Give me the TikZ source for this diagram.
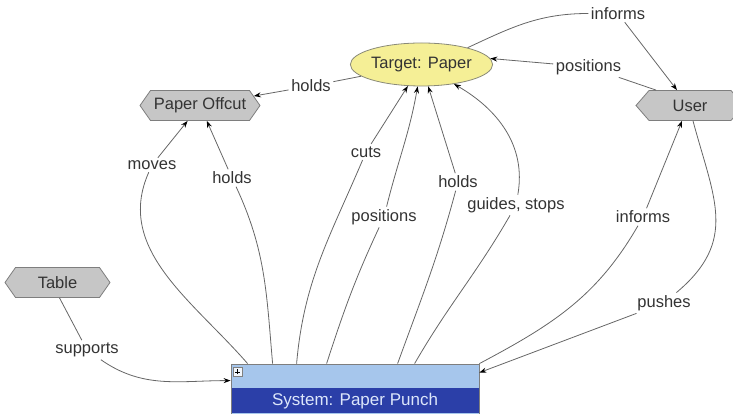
\documentclass[tikz,border=0pt]{standalone}
\usepackage{fontspec}
\setmainfont{Liberation Sans}
\usetikzlibrary{shapes.geometric,shapes.symbols,arrows.meta}

\definecolor{hexfill}{HTML}{C6C6C6}
\definecolor{hexline}{HTML}{7E7E7E}
\definecolor{paperfill}{HTML}{F5EF96}
\definecolor{paperline}{HTML}{8A8A78}
\definecolor{syslight}{HTML}{A6C6EC}
\definecolor{sysdark}{HTML}{2B3FA8}
\definecolor{systext}{HTML}{DCE6FA}
\definecolor{edgec}{HTML}{666666}
\definecolor{txt}{HTML}{333333}

\begin{document}
\begin{tikzpicture}[x=1pt,y=1pt,
  every node/.style={font=\fontsize{16.5}{19}\selectfont, text=txt},
  hexa/.style={signal, signal to=west and east, signal from=nowhere,
    signal pointer angle=110, draw=hexline, fill=hexfill, line width=0.8pt,
    inner sep=0pt, minimum height=30pt},
  thing/.style={ellipse, draw=paperline, fill=paperfill, line width=0.8pt,
    inner sep=0pt, minimum width=120pt, minimum height=43pt},
  lbl/.style={inner sep=2.5pt},
  flow/.style={draw=edgec, line width=0.8pt,
    -{Stealth[length=7pt,width=5pt,color=black]}},
]
\useasboundingbox (0,0) rectangle (733,414);
\clip (0,0) rectangle (733,414);

% objects
\node[thing] (target) at (421.5,349.5) {Target: Paper};
\node[hexa, minimum width=120pt] (offcut) at (200,308.5) {Paper Offcut};
\node[hexa, minimum width=108pt, signal pointer angle=98] (user) at (690,308.5) {User};
\node[hexa, minimum width=105pt] (table) at (57.5,131.5) {Table};

% the system block
\node[draw=hexline, fill=syslight, line width=0.8pt, minimum width=248pt,
  minimum height=50pt, inner sep=0pt] (sys) at (355,25) {};
\node[fill=sysdark, minimum width=247pt, minimum height=25pt, inner sep=0pt,
  text=systext, font=\fontsize{17}{20}\selectfont] (sysname) at (355,13) {System: Paper Punch};
\node[draw=gray, fill=white!85!syslight, minimum size=9pt, inner sep=0pt] (icon) at (237.5,42) {};
\draw[black, line width=0.9pt] ([xshift=-2.5pt]icon.center) -- ([xshift=2.5pt]icon.center)
  ([yshift=-2.5pt]icon.center) -- ([yshift=2.5pt]icon.center);

% connector labels
\node[lbl] (holdsA) at (311,328) {holds};
\node[lbl] (informsT) at (618,400.5) {informs};
\node[lbl] (positionsT) at (588.5,347) {positions};
\node[lbl] (moves) at (152,249) {moves};
\node[lbl] (holdsB) at (232,236) {holds};
\node[lbl] (cuts) at (366,262) {cuts};
\node[lbl] (positionsM) at (384,197) {positions};
\node[lbl] (holdsC) at (458,232) {holds};
\node[lbl] (guides) at (516,209) {guides, stops};
\node[lbl] (informsR) at (643,197) {informs};
\node[lbl] (pushes) at (664,111) {pushes};
\node[lbl] (supports) at (87,64) {supports};

% connectors
\draw[flow] (target) -- (holdsA) -- (offcut);
\draw[flow] (target.20) to[out=25,in=180] (informsT) -- ([xshift=-13pt]user.north);
\draw[flow] ([xshift=-34pt]user.north) -- (positionsT) -- (target.5);
\draw[flow] ([xshift=17pt]sys.north west) to[out=131,in=-114] (moves) -- (offcut);
\draw[flow] ([xshift=42pt]sys.north west) to[out=95,in=-65] (holdsB) -- (offcut);
\draw[flow] ([xshift=66pt]sys.north west) to[out=85,in=-113] (cuts) -- (target);
\draw[flow] ([xshift=96pt]sys.north west) to[out=72,in=-115] (positionsM)
  to[out=76,in=-100] (target.-100);
\draw[flow] ([xshift=167pt]sys.north west) to[out=70,in=-105] (holdsC) -- (target.-73);
\draw[flow] ([xshift=184pt]sys.north west) to[out=60,in=-120] (guides)
  to[out=80,in=-30] (target.-31);
\draw[flow] (sys.north east) to[out=28,in=-120] (informsR) -- ([xshift=-8pt]user.south);
\draw[flow] ([xshift=3pt]user.south) to[out=-75,in=40,looseness=1.2] (pushes)
  -- ([yshift=-9pt]sys.north east);
\draw[flow] ([xshift=2pt]table.south) -- (supports)
  to[out=-35,in=180] ([yshift=-17pt]sys.north west);
\end{tikzpicture}
\end{document}
